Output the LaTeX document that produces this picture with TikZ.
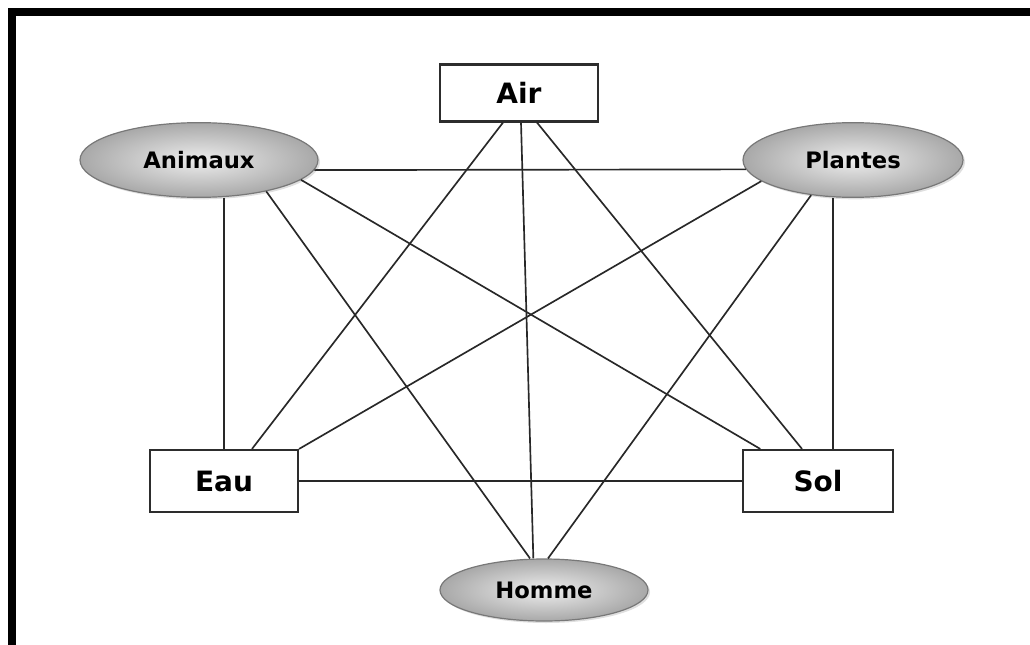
\documentclass[tikz,border=0pt]{standalone}
\usepackage{fontspec}
\setmainfont{DejaVu Sans}
\usetikzlibrary{shapes.geometric,shadows}

\tikzset{every picture/.style={line width=0.75pt}}
\tikzset{
  boite/.style={draw={rgb, 255:red, 45; green, 45; blue, 45 }, line width=1.6pt, fill=white, inner sep=0pt, minimum height=46.5pt, font=\bfseries\fontsize{21}{25}\selectfont},
  bulle/.style={ellipse, draw={rgb, 255:red, 120; green, 120; blue, 120 }, line width=0.9pt, inner color=white!93!black, outer color=white!66!black, inner sep=0pt, minimum height=56pt, font=\bfseries\fontsize{17}{20}\selectfont, drop shadow={opacity=0.25, shadow xshift=1.5pt, shadow yshift=-1.5pt}},
  lien/.style={draw={rgb, 255:red, 40; green, 40; blue, 40 }, line width=1.25pt}
}

\begin{document}
\begin{tikzpicture}[x=0.75pt,y=0.75pt,yscale=-1,xscale=1]
    \useasboundingbox (0,0) rectangle (1030,645);

    %Cadre
    \draw [line width=6pt] (12,645) -- (12,12) -- (1030,12) ;

    %Rectangles
    \node [boite, minimum width=118.5pt, minimum height=42.75pt] (air) at (519,93) {Air};
    \node [boite, minimum width=111pt] (eau) at (224,481) {Eau};
    \node [boite, minimum width=113pt] (sol) at (818,481) {Sol};
    %Ellipses
    \node [bulle, minimum width=178.5pt] (animaux) at (199,160) {Animaux};
    \node [bulle, minimum width=165pt] (plantes) at (853,160) {Plantes};
    \node [bulle, minimum width=156pt, minimum height=46.5pt] (homme) at (544,590) {Homme};

    %Straight Lines (Air)
    \draw [lien] ([xshift=-12pt]air.south) -- ([xshift=21pt]eau.north) ;
    \draw [lien] ([xshift=1.5pt]air.south) -- ([xshift=-8pt]homme.north) ;
    \draw [lien] ([xshift=13.5pt]air.south) -- ([xshift=-12pt]sol.north) ;
    %Straight Lines (Animaux)
    \draw [lien] (animaux.-5) -- (plantes.185) ;
    \draw [lien] (eau.north) -- (eau.north |- animaux.south) ;
    \draw [lien] (animaux.-25) -- ([xshift=-10.5pt]homme.north) ;
    \draw [lien] (animaux.-11) -- ([xshift=14pt]sol.north west) ;
    %Straight Lines (Plantes)
    \draw [lien] (plantes.193) -- (eau.north east) ;
    \draw [lien] (plantes.220) -- ([xshift=3pt]homme.north) ;
    \draw [lien] ([xshift=11pt]sol.north) -- ([xshift=11pt]sol.north |- plantes.south) ;
    %Straight Lines (Eau - Sol)
    \draw [lien] (eau.east) -- (sol.west) ;

\end{tikzpicture}
\end{document}
